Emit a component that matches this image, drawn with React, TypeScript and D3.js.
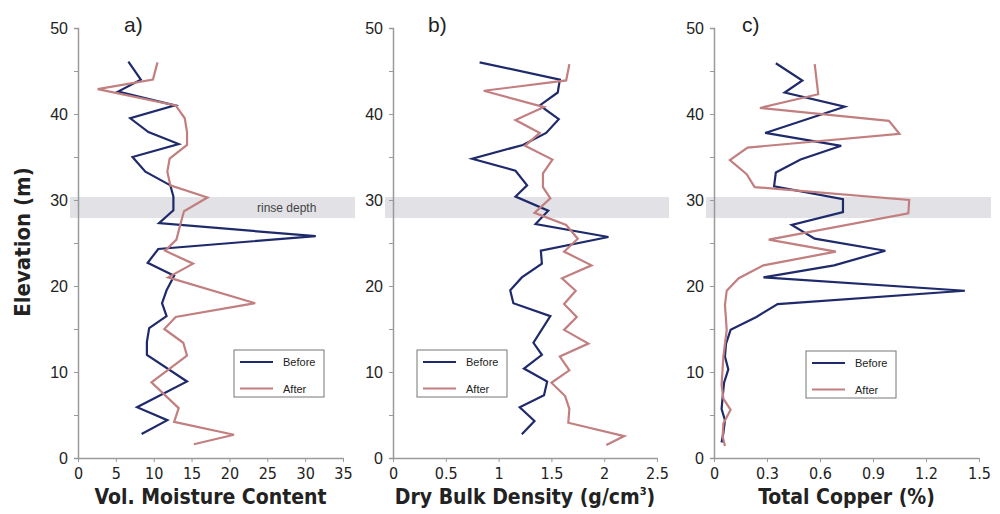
import { axisBottom, axisLeft, format, line, scaleLinear, select } from 'd3';
import { useEffect, useRef } from 'react';

// a) volumetric moisture content
const moistBeforeElev = [46.1, 44.0, 42.6, 41.0, 39.5, 37.9, 36.5, 35.0, 33.3, 31.7, 30.4, 28.8, 27.3, 25.8, 24.3, 22.7, 21.2, 19.5, 18.0, 16.5, 15.1, 13.5, 12.0, 8.9, 5.9, 4.4, 2.8];
const moistBefore = [6.65, 8.3, 5.3, 12.8, 6.9, 9.3, 13.3, 7.2, 8.9, 12.2, 12.6, 12.6, 10.7, 31.4, 10.6, 9.2, 12.7, 11.7, 11.1, 11.7, 9.4, 9.1, 9.1, 14.4, 7.8, 11.8, 8.4];
const moistAfterElev = [46.0, 44.0, 42.9, 41.0, 39.5, 37.9, 36.4, 34.8, 33.3, 31.7, 30.3, 28.7, 27.1, 25.4, 24.1, 22.6, 21.0, 18.0, 16.4, 15.0, 13.4, 11.9, 8.8, 5.8, 4.2, 2.7, 1.6];
const moistAfter = [10.5, 9.9, 2.6, 12.9, 14.1, 14.4, 14.4, 12.1, 11.8, 12.2, 17.1, 14.0, 13.5, 13.0, 11.5, 15.2, 11.9, 23.4, 12.9, 11.4, 13.9, 14.4, 9.7, 13.3, 12.7, 20.6, 15.3];

// b) dry bulk density
const densBeforeElev = [46.0, 44.0, 42.5, 41.0, 39.4, 37.8, 36.4, 34.8, 33.4, 31.7, 30.4, 28.75, 27.2, 25.7, 24.1, 22.6, 21.0, 19.5, 18.0, 16.5, 13.4, 12.0, 10.4, 8.9, 7.3, 5.9, 4.3, 2.75];
const densBefore = [0.82, 1.58, 1.56, 1.39, 1.57, 1.45, 1.23, 0.75, 1.16, 1.27, 1.16, 1.47, 1.35, 2.04, 1.40, 1.41, 1.22, 1.11, 1.14, 1.49, 1.33, 1.41, 1.24, 1.46, 1.43, 1.20, 1.34, 1.22];
const densAfterElev = [45.8, 43.9, 42.7, 40.8, 39.3, 37.8, 36.3, 34.7, 33.1, 31.5, 30.2, 28.5, 27.1, 25.5, 24.0, 22.4, 20.9, 19.45, 17.9, 16.4, 14.9, 13.3, 11.8, 10.2, 8.75, 7.2, 5.7, 4.1, 2.55, 1.5];
const densAfter = [1.67, 1.64, 0.86, 1.43, 1.16, 1.39, 1.25, 1.51, 1.42, 1.42, 1.49, 1.34, 1.64, 1.75, 1.62, 1.88, 1.60, 1.73, 1.62, 1.74, 1.62, 1.85, 1.58, 1.67, 1.50, 1.63, 1.67, 1.66, 2.19, 2.02];

// c) total copper
const cuBeforeElev = [45.9, 43.9, 42.5, 40.85, 37.8, 36.3, 34.7, 33.2, 31.6, 30.1, 28.6, 27.1, 25.5, 24.1, 22.4, 21.0, 19.45, 17.9, 16.4, 14.9, 13.3, 11.8, 10.3, 8.75, 7.1, 5.7, 4.4, 2.9, 1.8];
const cuBefore = [0.35, 0.50, 0.40, 0.74, 0.29, 0.72, 0.49, 0.35, 0.34, 0.73, 0.73, 0.44, 0.57, 0.97, 0.68, 0.28, 1.42, 0.36, 0.24, 0.094, 0.068, 0.062, 0.081, 0.057, 0.049, 0.043, 0.062, 0.053, 0.043];
const cuAfterElev = [45.8, 42.3, 40.7, 39.2, 37.7, 36.1, 34.65, 33.0, 31.5, 30.0, 28.45, 25.4, 24.0, 22.4, 20.9, 19.45, 17.8, 14.9, 11.8, 8.5, 6.9, 5.6, 4.0, 2.5, 1.4];
const cuAfter = [0.57, 0.59, 0.26, 0.99, 1.05, 0.19, 0.09, 0.185, 0.23, 1.105, 1.10, 0.31, 0.69, 0.28, 0.14, 0.072, 0.062, 0.072, 0.053, 0.043, 0.053, 0.094, 0.053, 0.049, 0.062];

const elevTicks = [0, 10, 20, 30, 40, 50];
const elevMinorTicks = [0, 5, 10, 15, 20, 25, 30, 35, 40, 45, 50];
const moistTicks = [0, 5, 10, 15, 20, 25, 30, 35];
const densTicks = [0, 0.5, 1, 1.5, 2, 2.5];
const cuTicks = [0, 0.3, 0.6, 0.9, 1.2, 1.5];
const rinseBand = [27.9, 30.35];
const seriesNames = ['Before', 'After'];

const BEFORE = '#1f2a6b';
const AFTER = '#c27f80';
const AXIS = '#9a9a9a';
const NARROW = "'Liberation Sans Narrow', 'DejaVu Sans Condensed', 'Liberation Sans', sans-serif";
const SANS = "'Liberation Sans', Arial, sans-serif";

export default function App() {
  const svgRef = useRef<SVGSVGElement>(null);

  useEffect(() => {
    const width = 1000;
    const height = 514;
    const svg = select(svgRef.current);
    svg.selectAll('*').remove();
    svg.attr('width', width).attr('height', height);

    const y = scaleLinear().domain([0, 50]).range([458, 28]);

    const panels = [
      {
        label: 'a)', labelDx: 46, left: 78, right: 343, max: 35, ticks: moistTicks, fmt: (d: number) => String(d),
        before: [moistBeforeElev, moistBefore], after: [moistAfterElev, moistAfter],
        title: 'Vol. Moisture Content', legend: [156, 350], rinse: true,
      },
      {
        label: 'b)', labelDx: 35, left: 393, right: 657, max: 2.5, ticks: densTicks, fmt: format(''),
        before: [densBeforeElev, densBefore], after: [densAfterElev, densAfter],
        title: 'Dry Bulk Density (g/cm', legend: [24, 350], rinse: false,
      },
      {
        label: 'c)', labelDx: 28, left: 714, right: 979, max: 1.5, ticks: cuTicks, fmt: (d: number) => (d === 0 ? '0' : d.toFixed(1)),
        before: [cuBeforeElev, cuBefore], after: [cuAfterElev, cuAfter],
        title: 'Total Copper (%)', legend: [92, 351], rinse: false,
      },
    ];

    panels.forEach((p) => {
      const x = scaleLinear().domain([0, p.max]).range([p.left, p.right]);
      const g = svg.append('g');

      // rinse depth band
      g.append('rect')
        .attr('x', p.left - 8)
        .attr('y', y(rinseBand[1]))
        .attr('width', p.right - p.left + 20)
        .attr('height', y(rinseBand[0]) - y(rinseBand[1]))
        .attr('fill', '#e1e1e6');
      if (p.rinse) {
        g.append('text')
          .attr('x', p.left + 179)
          .attr('y', y((rinseBand[0] + rinseBand[1]) / 2) + 4)
          .attr('font-family', SANS)
          .attr('font-size', 12)
          .attr('fill', '#444')
          .text('rinse depth');
      }

      // y axis
      const yAxis = g.append('g').attr('transform', `translate(${p.left},0)`)
        .call(axisLeft(y).tickValues(elevMinorTicks).tickSize(4).tickFormat(() => ''));
      yAxis.select('.domain').attr('stroke', AXIS).attr('stroke-width', 1.5);
      yAxis.selectAll('.tick line').attr('stroke', AXIS);
      g.selectAll('.ylab')
        .data(elevTicks)
        .enter()
        .append('text')
        .attr('x', p.left - 10)
        .attr('y', (d) => y(d) + 6)
        .attr('text-anchor', 'end')
        .attr('font-family', SANS)
        .attr('font-size', 16)
        .attr('fill', '#222')
        .text((d) => String(d));

      // x axis
      const xAxis = g.append('g').attr('transform', `translate(0,${y(0)})`)
        .call(axisBottom(x).tickValues(p.ticks).tickSize(4).tickSizeOuter(0).tickFormat((d) => p.fmt(d as number)));
      xAxis.select('.domain').attr('stroke', AXIS).attr('stroke-width', 1.5);
      xAxis.selectAll('.tick line').attr('stroke', AXIS);
      xAxis.selectAll('.tick text')
        .attr('font-family', NARROW)
        .attr('font-size', 16)
        .attr('fill', '#222')
        .attr('dy', '0.9em');

      // panel label
      g.append('text')
        .attr('x', p.left + p.labelDx)
        .attr('y', 32)
        .attr('font-family', SANS)
        .attr('font-size', 21)
        .attr('fill', '#222')
        .text(p.label);

      // x title
      const title = g.append('text')
        .attr('x', (p.left + p.right) / 2)
        .attr('y', 504)
        .attr('text-anchor', 'middle')
        .attr('font-family', NARROW)
        .attr('font-weight', 'bold')
        .attr('font-size', 21)
        .attr('fill', '#222')
        .text(p.title);
      if (p.label === 'b)') {
        title.append('tspan').attr('font-size', 11).attr('dy', -9).text('3');
        title.append('tspan').attr('dy', 9).text(')');
      }

      // series lines
      const ln = line<[number, number]>()
        .x((d) => x(d[1]))
        .y((d) => y(d[0]));
      [p.before, p.after].forEach((s, i) => {
        const pts = s[0].map((e, k) => [e, s[1][k]] as [number, number]);
        g.append('path')
          .datum(pts)
          .attr('d', ln)
          .attr('fill', 'none')
          .attr('stroke', i === 0 ? BEFORE : AFTER)
          .attr('stroke-width', 2.2)
          .attr('stroke-linejoin', 'miter');
      });

      // legend
      const lg = g.append('g').attr('transform', `translate(${p.left + p.legend[0]},${p.legend[1]})`);
      lg.append('rect').attr('width', 90).attr('height', 47).attr('fill', '#fff').attr('stroke', '#777').attr('stroke-width', 1);
      seriesNames.forEach((n, i) => {
        lg.append('line')
          .attr('x1', 6).attr('x2', 39)
          .attr('y1', 12 + i * 26.5).attr('y2', 12 + i * 26.5)
          .attr('stroke', i === 0 ? BEFORE : AFTER)
          .attr('stroke-width', 2.2);
        lg.append('text')
          .attr('x', 49)
          .attr('y', 16 + i * 26.5)
          .attr('font-family', SANS)
          .attr('font-size', 11)
          .attr('fill', '#222')
          .text(n);
      });
    });

    // y title
    svg.append('text')
      .attr('transform', 'translate(30,242) rotate(-90)')
      .attr('text-anchor', 'middle')
      .attr('font-family', NARROW)
      .attr('font-weight', 'bold')
      .attr('font-size', 22)
      .attr('fill', '#222')
      .text('Elevation (m)');
  }, []);

  return (
    <div style={{ position: 'absolute', left: 0, top: 0 }}>
      <svg ref={svgRef} style={{ display: 'block', background: '#fff' }}></svg>
    </div>
  );
}
